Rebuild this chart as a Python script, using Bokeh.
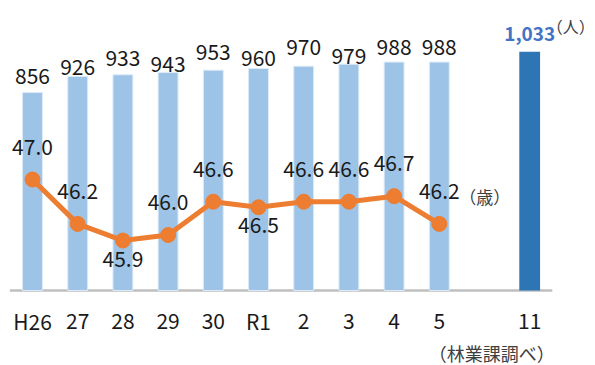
from bokeh.plotting import figure
from bokeh.models import Range1d
from bokeh.core.properties import value
from bokeh.embed import file_html
from bokeh.resources import INLINE

# ---- data ----
years = ["H26", "27", "28", "29", "30", "R1", "2", "3", "4", "5"]
workers = [856, 926, 933, 943, 953, 960, 970, 979, 988, 988]
avg_age = [47.0, 46.2, 45.9, 46.0, 46.6, 46.5, 46.6, 46.6, 46.7, 46.2]
target_year = "11"
target_workers = 1033
labels_below = ["28", "R1"]
unit_workers = "（人）"
unit_age = "（歳）"
source_note = "（林業課調べ）"

# ---- style ----
bar_label_gap = [17, 9, 17, 8, 18, 11, 19, 8, 15, 15]   # px above each bar top
FONT = value("Noto Sans CJK JP")
FS = "21px"
FS_JP = "17px"
TXT = "#1a1a1a"
TXT2 = "#404040"

# slot positions: one empty slot between the yearly series and the target
slots = years + [None, target_year]
xpos = {c: i for i, c in enumerate(slots) if c is not None}
yx = [xpos[c] for c in years]
tx = xpos[target_year]

p = figure(
    x_range=Range1d(-0.708, 12.456),
    y_range=Range1d(-324.4, 1254.3),
    width=595, height=365,
    output_backend="svg", toolbar_location=None,
    min_border=0, min_border_left=0, min_border_right=0, min_border_top=0, min_border_bottom=0,
)
p.extra_y_ranges = {"age": Range1d(43.649, 50.225)}
p.outline_line_color = None
p.grid.visible = False
p.axis.visible = False
p.background_fill_color = "white"
p.border_fill_color = "white"

# baseline (category axis line)
p.segment(x0=[-0.5], x1=[len(slots) - 0.5], y0=[0], y1=[0], line_color="#BFBFBF", line_width=2.5)

# bars
p.vbar(x=yx, top=workers, width=0.44, fill_color="#9DC3E6", line_color="#DDEBF7", line_width=1)
p.vbar(x=[tx], top=[target_workers], width=0.46, fill_color="#2E75B6", line_color=None)

# category labels
p.text(x=yx + [tx], y=[0] * (len(yx) + 1), text=years + [target_year], text_align="center",
       text_baseline="middle", y_offset=31, text_font=FONT, text_font_size=FS, text_color=TXT)

# bar value labels
p.text(x=yx, y=workers, text=[str(v) for v in workers], text_align="center",
       text_baseline="alphabetic", y_offset=[-g for g in bar_label_gap],
       text_font=FONT, text_font_size=FS, text_color=TXT)
p.text(x=[tx], y=[target_workers], text=[f"{target_workers:,}"], text_align="center",
       text_baseline="alphabetic", y_offset=-18, text_font=FONT, text_font_size="19px",
       text_font_style="bold", text_color="#4472C4")
p.text(x=[tx], y=[target_workers], text=[unit_workers], text_align="right",
       text_baseline="middle", x_offset=65, y_offset=-26, text_font=FONT, text_font_size="16px",
       text_color=TXT2)

# age line
p.line(x=yx, y=avg_age, y_range_name="age", line_color="#ED7D31", line_width=5)
p.scatter(x=yx, y=avg_age, y_range_name="age", size=15, fill_color="#ED7D31", line_color="#ED7D31")

up = [(x, a) for x, c, a in zip(yx, years, avg_age) if c not in labels_below]
dn = [(x, a) for x, c, a in zip(yx, years, avg_age) if c in labels_below]
p.text(x=[u[0] for u in up], y=[u[1] for u in up], text=[f"{u[1]:.1f}" for u in up],
       y_range_name="age", text_align="center", text_baseline="middle", y_offset=-33,
       text_font=FONT, text_font_size=FS, text_color=TXT)
p.text(x=[d[0] for d in dn], y=[d[1] for d in dn], text=[f"{d[1]:.1f}" for d in dn],
       y_range_name="age", text_align="center", text_baseline="middle", y_offset=18,
       text_font=FONT, text_font_size=FS, text_color=TXT)
p.text(x=[yx[-1]], y=[avg_age[-1]], text=[unit_age], y_range_name="age", text_align="left",
       text_baseline="middle", x_offset=20, y_offset=-27, text_font=FONT, text_font_size=FS_JP,
       text_color=TXT2)

# source note
p.text(x=[tx], y=[0], text=[source_note], text_align="right", text_baseline="middle",
       x_offset=25, y_offset=63, text_font=FONT, text_font_size="18px", text_color=TXT2)

open("out.html", "w").write(file_html(p, INLINE))
